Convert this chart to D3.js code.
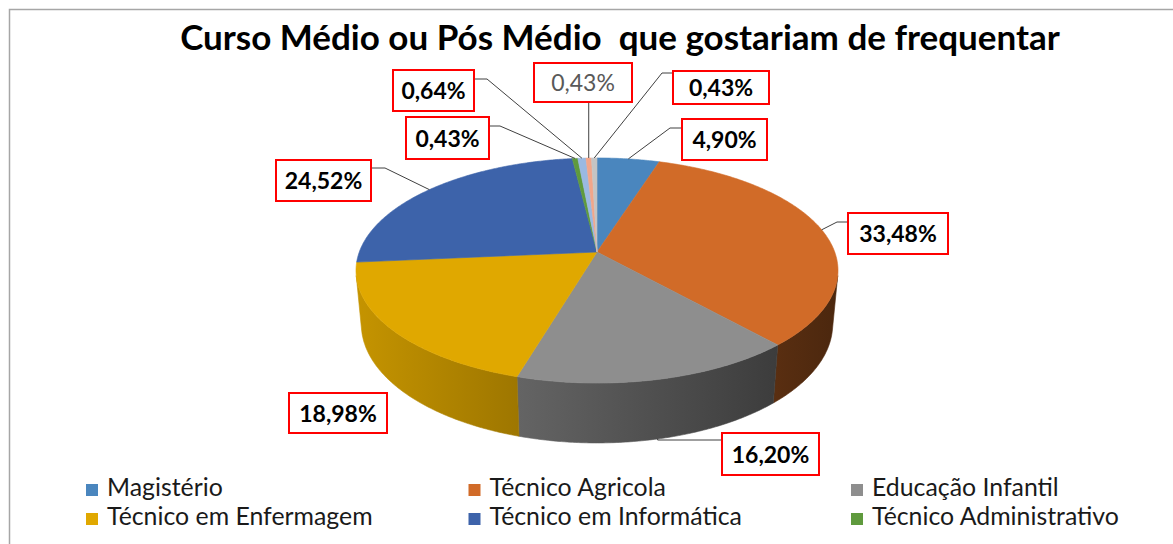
<!DOCTYPE html>
<head>
  <meta charset="utf-8">
  <style>
    body { margin: 0; background: #fff; }
    svg { display: block; background: #fff; }
    .title { font-family: Lato, "Open Sans", sans-serif; font-weight: bold; fill: #000; }
    .lbl { font-family: Lato, "Open Sans", sans-serif; font-weight: bold; font-size: 23px; fill: #000; }
    .lbl.light { font-weight: normal; fill: #595959; }
    .box { fill: #fff; stroke: #ff0000; stroke-width: 2px; }
    .leader { fill: none; stroke: #404040; stroke-width: 1px; }
    .legend text { font-family: Lato, "Open Sans", sans-serif; fill: #1a1a1a; }
  </style>
</head>
<body>
  <svg></svg>
  <script src="https://d3js.org/d3.v7.min.js"></script>
  <script>
    // data
    const categories = ["Magistério", "Técnico Agricola", "Educação Infantil", "Técnico em Enfermagem",
                        "Técnico em Informática", "Técnico Administrativo", "Série 7", "Série 8", "Série 9"];
    const values = [4.90, 33.48, 16.20, 18.98, 24.52, 0.43, 0.64, 0.43, 0.43];
    const colors = ["#4a86be", "#d16b28", "#8e8e8e", "#e0a800", "#3d63aa", "#5f9a3d", "#9ab9e2", "#f2a68a", "#c4c4c4"];
    const legendCount = 6; // the legend in the picture only shows the first six

    // label boxes (layout only): x, y, w, h, where the leader leaves the box
    const labelLayout = [
      { x: 682, y: 119, w: 85, h: 41, from: "left", dy: 9, elbow: 12, rim: "top" },
      { x: 848, y: 213, w: 100, h: 41, from: "left", dy: 9, elbow: 11, rim: "top" },
      { x: 722, y: 433, w: 97, h: 42, from: "left", dy: 7, elbow: null, rim: "bottom" },
      { x: 289, y: 393, w: 98, h: 40, from: null },
      { x: 276, y: 160, w: 95, h: 41, from: "right", dy: 8, elbow: 14, rim: "top" },
      { x: 406, y: 117, w: 83, h: 42, from: "right", dy: 9, elbow: 11, rim: "top" },
      { x: 393, y: 70, w: 81, h: 41, from: "right", dy: 9, elbow: 13, rim: "top" },
      { x: 534, y: 63, w: 98, h: 39, from: "bottom", rim: "top", light: true },
      { x: 673, y: 71, w: 96, h: 33, from: "left", dy: 2, elbow: 11, rim: "top" }
    ];

    const width = 1173, height = 544;
    const svg = d3.select("svg").attr("width", width).attr("height", height);

    // frame of the chart area
    svg.append("path").attr("d", `M9.5,${height} V9.5 H${width}`)
      .attr("fill", "none").attr("stroke", "#a6a6a6").attr("stroke-width", 1.5);

    // title, stretched to the width it has in the picture
    const title = svg.append("text").attr("class", "title")
      .attr("x", 620).attr("y", 50).attr("text-anchor", "middle")
      .style("font-size", "34px").style("white-space", "pre")
      .text("Curso Médio ou Pós Médio  que gostariam de frequentar");
    let tw = title.node().getComputedTextLength();
    title.style("font-size", (34 * 880 / tw).toFixed(2) + "px");

    // simple perspective camera for the 3d pie
    const cx = 597, cy = 252, focal = 1282.7, dist = 5.396, tilt = 27.43 * Math.PI / 180, thick = 0.257;
    function proj(x, y, z) {
      const up = y * Math.cos(tilt) + z * Math.sin(tilt);
      const dep = dist + z * Math.cos(tilt) - y * Math.sin(tilt);
      return [cx + focal * x / dep, cy - focal * up / dep];
    }
    function rim(t, y) { return proj(Math.sin(t), y, Math.cos(t)); }

    const pie = d3.pie().sort(null).value(d => d).startAngle(0).endAngle(2 * Math.PI);
    const arcs = pie(values);

    // part of the outer wall that faces the camera
    const tMin = Math.acos(-1 / (dist * Math.cos(tilt))), tMax = 2 * Math.PI - tMin;
    const line = d3.line();
    function samples(a, b) {
      const n = Math.max(2, Math.ceil((b - a) / 0.01));
      return d3.range(n + 1).map(i => a + (b - a) * i / n);
    }

    const xs = samples(0, 2 * Math.PI).map(t => rim(t, 0)[0]);
    const [xLeft, xRight] = d3.extent(xs);

    const defs = svg.append("defs");
    arcs.forEach((d, i) => {
      const c = d3.rgb(colors[i]);
      const shade = f => d3.rgb(c.r * f, c.g * f, c.b * f).formatHex();
      const g = defs.append("linearGradient").attr("id", "side" + i)
        .attr("gradientUnits", "userSpaceOnUse")
        .attr("x1", xLeft).attr("x2", xRight).attr("y1", 0).attr("y2", 0);
      g.append("stop").attr("offset", 0).attr("stop-color", shade(0.88));
      g.append("stop").attr("offset", 1).attr("stop-color", shade(0.36));
    });

    const walls = svg.append("g");
    arcs.forEach((d, i) => {
      const a = Math.max(d.startAngle, tMin), b = Math.min(d.endAngle, tMax);
      if (b <= a) return;
      const ts = samples(a, b);
      const pts = ts.map(t => rim(t, 0)).concat(ts.slice().reverse().map(t => rim(t, -thick)));
      walls.append("path").attr("d", line(pts) + "Z")
        .attr("fill", `url(#side${i})`).attr("stroke", `url(#side${i})`).attr("stroke-width", 0.6);
    });

    const tops = svg.append("g");
    const centre = proj(0, 0, 0);
    arcs.forEach((d, i) => {
      const pts = [centre].concat(samples(d.startAngle, d.endAngle).map(t => rim(t, 0)));
      tops.append("path").attr("d", line(pts) + "Z")
        .attr("fill", colors[i]).attr("stroke", colors[i]).attr("stroke-width", 0.6);
    });

    // data labels
    const fmt = v => d3.format(".2f")(v).replace(".", ",") + "%";
    const labels = svg.append("g");
    arcs.forEach((d, i) => {
      const L = labelLayout[i];
      const mid = (d.startAngle + d.endAngle) / 2;
      if (L.from) {
        const p = rim(mid, L.rim === "bottom" ? -thick : 0);
        let pts;
        if (L.from === "bottom") {
          pts = [[p[0], L.y + L.h], p];
        } else {
          const sx = L.from === "left" ? L.x : L.x + L.w;
          const sy = L.y + L.dy;
          if (L.elbow === null) pts = [[sx, sy], [p[0], sy], p];
          else pts = [[sx, sy], [L.from === "left" ? sx - L.elbow : sx + L.elbow, sy], p];
        }
        labels.append("path").attr("class", "leader").attr("d", line(pts));
      }
      labels.append("rect").attr("class", "box")
        .attr("x", L.x).attr("y", L.y).attr("width", L.w).attr("height", L.h);
      labels.append("text").attr("class", "lbl" + (L.light ? " light" : ""))
        .attr("x", L.x + L.w / 2).attr("y", L.y + L.h / 2 + 8.5)
        .attr("text-anchor", "middle").text(fmt(d.data));
    });

    // legend: three columns, two rows
    const colX = d3.scaleLinear().domain([0, 2]).range([86, 851]);
    const rowY = d3.scaleLinear().domain([0, 1]).range([484, 513]);
    const legend = svg.append("g").attr("class", "legend");
    const items = legend.selectAll("g").data(categories.slice(0, legendCount)).join("g")
      .attr("transform", (d, i) => `translate(${colX(i % 3)},${rowY(Math.floor(i / 3))})`);
    items.append("rect").attr("width", 12).attr("height", 12).attr("fill", (d, i) => colors[i]);
    const ltext = items.append("text").attr("x", 21).attr("y", 12).style("font-size", "20px").text(d => d);
    tw = ltext.filter((d, i) => i === 5).node().getComputedTextLength();
    ltext.style("font-size", (20 * 247 / tw).toFixed(2) + "px");
  </script>
</body>
